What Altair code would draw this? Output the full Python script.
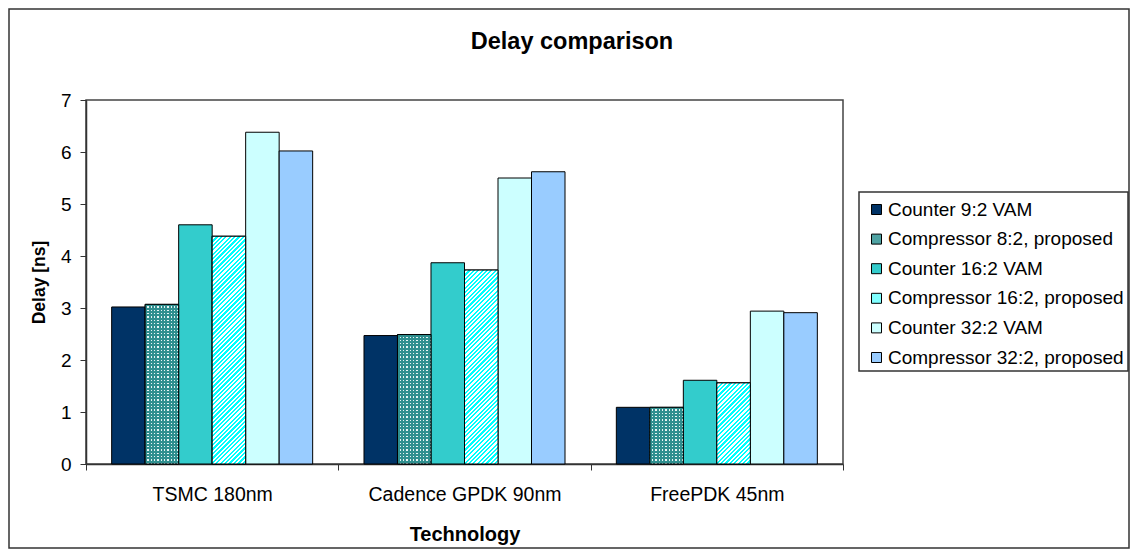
import altair as alt
import pandas as pd

# ---------------- data ----------------
technologies = ["TSMC 180nm", "Cadence GPDK 90nm", "FreePDK 45nm"]
series = [
    "Counter 9:2 VAM",
    "Compressor 8:2, proposed",
    "Counter 16:2 VAM",
    "Compressor 16:2, proposed",
    "Counter 32:2 VAM",
    "Compressor 32:2, proposed",
]
counter_9_2 = [3.02, 2.47, 1.09]
compressor_8_2 = [3.07, 2.49, 1.09]
counter_16_2 = [4.60, 3.87, 1.61]
compressor_16_2 = [4.38, 3.73, 1.56]
counter_32_2 = [6.38, 5.50, 2.94]
compressor_32_2 = [6.02, 5.62, 2.91]
y_ticks = [0, 1, 2, 3, 4, 5, 6, 7]

series_values = [counter_9_2, compressor_8_2, counter_16_2,
                 compressor_16_2, counter_32_2, compressor_32_2]

# ---------------- styling ----------------
legend_colors = ["#003366", "#4fa3a3", "#33cccc", "#80ffff", "#ccffff", "#99ccff"]
FONT = "Liberation Sans"
W, H = 757, 364
YMAX = 7
OUTER_PAD = 0.766
BAR_W = (W / len(technologies)) / (len(series) + 2 * OUTER_PAD)

rows = []
for s, vals in zip(series, series_values):
    for t, v in zip(technologies, vals):
        rows.append({"tech": t, "series": s, "value": v})
df = pd.DataFrame(rows)

x_enc = alt.X(
    "tech:N", sort=technologies,
    scale=alt.Scale(paddingInner=0, paddingOuter=0),
    axis=alt.Axis(title="Technology", tickBand="extent", labelAngle=0,
                  labelFontSize=19.5, labelPadding=15, labelLimit=400,
                  titleFontSize=20, titleFontWeight="bold", titlePadding=21,
                  tickSize=6, domainColor="#333", tickColor="#333",
                  domainWidth=1.5, labelColor="#000", titleColor="#000"),
)
xo_enc = alt.XOffset("series:N", sort=series,
                     scale=alt.Scale(paddingInner=0, paddingOuter=OUTER_PAD))
y_enc = alt.Y(
    "value:Q", scale=alt.Scale(domain=[0, YMAX], nice=False),
    axis=alt.Axis(title="Delay [ns]", values=y_ticks, format="d", grid=False,
                  labelFontSize=19, labelPadding=9, tickSize=6,
                  titleFontSize=17.5, titleFontWeight="bold", titlePadding=12,
                  domainColor="#333", tickColor="#333", domainWidth=1.5,
                  labelColor="#000", titleColor="#000"),
)

# legend frame (drawn as a mark so its padding can be asymmetric)
legend_box = alt.Chart(pd.DataFrame({"k": [0]})).mark_rect(
    fill="white", stroke="#333", strokeWidth=1.5
).encode(x=alt.value(773), x2=alt.value(1042), y=alt.value(92), y2=alt.value(271))

bars = alt.Chart(df).mark_bar(stroke="black", strokeWidth=1).encode(
    x=x_enc, xOffset=xo_enc, y=y_enc,
    color=alt.Color(
        "series:N", sort=series,
        scale=alt.Scale(domain=series, range=legend_colors),
        legend=alt.Legend(title=None, orient="none", legendX=778, legendY=97,
                          symbolType="square", symbolSize=100,
                          symbolStrokeColor="black", symbolStrokeWidth=1,
                          labelFontSize=19, labelFont=FONT, labelColor="#000",
                          rowPadding=9.6, padding=3, labelLimit=400,
                          labelOffset=2, symbolOffset=0),
    ),
)


def stops_of(n, c1, c2, frac):
    out = []
    for k in range(n):
        a, b, c = k / n, (k + frac) / n, (k + 1) / n
        out += [{"offset": a, "color": c1}, {"offset": b, "color": c1},
                {"offset": b, "color": c2}, {"offset": c, "color": c2}]
    return out


def diag_stripes(h, w, period, c1, c2):
    r = h / w
    s = (1 + r) / (1 + r * r)
    n = max(1, round((w + h) / period))
    return {"gradient": "linear", "x1": 0, "y1": 0, "x2": s, "y2": s * r,
            "stops": stops_of(n, c1, c2, 0.5)}


def horiz_stripes(h, period, c1, c2, frac):
    n = max(1, round(h / period))
    return {"gradient": "linear", "x1": 0, "y1": 0, "x2": 0, "y2": 1,
            "stops": stops_of(n, c1, c2, frac)}


def vert_stripes(w, period, c1, c2, frac):
    n = max(1, round(w / period))
    return {"gradient": "linear", "x1": 0, "y1": 0, "x2": 1, "y2": 0,
            "stops": stops_of(n, c1, c2, frac)}


overlays = []
for t, v in zip(technologies, compressor_16_2):
    h = v / YMAX * H
    overlays.append(
        alt.Chart(df).transform_filter(
            (alt.datum.tech == t) & (alt.datum.series == series[3])
        ).mark_bar(fill=diag_stripes(h, BAR_W, 4.4, "#00ffff", "#ffffff"),
                   stroke="black", strokeWidth=1)
        .encode(x=x_enc, xOffset=xo_enc, y=y_enc)
    )
for t, v in zip(technologies, compressor_8_2):
    h = v / YMAX * H
    flt = (alt.datum.tech == t) & (alt.datum.series == series[1])
    overlays.append(
        alt.Chart(df).transform_filter(flt)
        .mark_bar(fill=horiz_stripes(h, 3.3, "#2f8f8f", "#e8f4f4", 0.6))
        .encode(x=x_enc, xOffset=xo_enc, y=y_enc)
    )
    overlays.append(
        alt.Chart(df).transform_filter(flt)
        .mark_bar(fill=vert_stripes(BAR_W, 3.3, "#2f8f8f", "rgba(47,143,143,0)", 0.6),
                  stroke="black", strokeWidth=1)
        .encode(x=x_enc, xOffset=xo_enc, y=y_enc)
    )

border = alt.Chart(pd.DataFrame({"k": [0]})).mark_rect(
    filled=False, stroke="#333", strokeWidth=1.5
).encode(x=alt.value(-77), x2=alt.value(1043), y=alt.value(-91), y2=alt.value(448))

title = alt.Chart(pd.DataFrame({"t": ["Delay comparison"]})).mark_text(
    fontSize=23.5, fontWeight="bold", align="center", baseline="alphabetic",
    font=FONT, color="#000"
).encode(x=alt.value(486), y=alt.value(-51), text="t:N")

chart = alt.layer(border, legend_box, bars, *overlays, title).properties(
    width=W, height=H, padding=0
).configure(font=FONT).configure_view(stroke="#444", strokeWidth=1.5)

chart.save("out.html", embed_options={"renderer": "svg", "actions": False})
